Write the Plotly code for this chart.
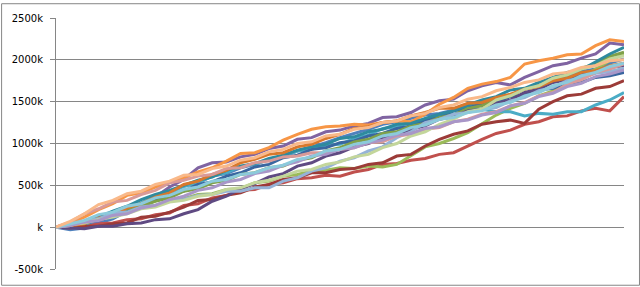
import plotly.graph_objects as go

# values in thousands, 41 samples per series
steps = list(range(41))

blue = [0, -30, -10, 50, 100, 190, 240, 340, 410, 490, 530, 610, 640, 710, 750, 810, 850, 910, 960, 1010, 1070, 1120, 1170, 1230, 1260, 1300, 1340, 1360, 1400, 1440, 1480, 1530, 1570, 1650, 1690, 1760, 1790, 1860, 1890, 1960, 2010]
red = [0, 10, 10, 40, 50, 90, 100, 150, 170, 260, 280, 350, 380, 440, 450, 510, 530, 580, 590, 620, 610, 660, 690, 750, 760, 800, 820, 870, 890, 970, 1050, 1120, 1160, 1230, 1260, 1320, 1330, 1390, 1420, 1390, 1560]
green = [0, 20, 60, 80, 140, 170, 240, 260, 320, 340, 390, 400, 450, 460, 530, 550, 610, 630, 670, 680, 710, 700, 730, 720, 750, 860, 960, 1000, 1060, 1130, 1230, 1340, 1420, 1480, 1570, 1630, 1730, 1800, 1890, 1990, 2070]
purple = [0, 10, 50, 70, 150, 190, 280, 360, 480, 570, 710, 770, 780, 840, 870, 940, 970, 1050, 1070, 1140, 1160, 1210, 1240, 1310, 1320, 1370, 1460, 1510, 1530, 1630, 1690, 1730, 1700, 1790, 1860, 1930, 1960, 2020, 2070, 2200, 2180]
aqua = [0, 10, 30, 100, 140, 240, 290, 370, 410, 490, 530, 610, 650, 730, 750, 810, 850, 910, 930, 980, 990, 1060, 1100, 1180, 1200, 1260, 1280, 1340, 1350, 1400, 1410, 1380, 1380, 1330, 1360, 1350, 1380, 1380, 1460, 1520, 1610]
orange = [0, 50, 120, 210, 280, 380, 410, 480, 540, 590, 660, 710, 790, 880, 890, 950, 1040, 1110, 1170, 1200, 1210, 1230, 1220, 1250, 1270, 1260, 1350, 1470, 1550, 1660, 1710, 1740, 1790, 1950, 1990, 2020, 2060, 2070, 2170, 2240, 2220]
darkblue = [0, 10, 50, 80, 160, 200, 280, 320, 390, 430, 510, 540, 610, 650, 720, 750, 830, 860, 930, 950, 1010, 1030, 1090, 1120, 1180, 1210, 1280, 1310, 1390, 1420, 1480, 1500, 1560, 1580, 1640, 1660, 1720, 1730, 1790, 1810, 1850]
darkred = [0, -10, 10, 10, 40, 50, 120, 130, 180, 240, 320, 330, 380, 410, 480, 510, 570, 590, 650, 650, 690, 700, 750, 770, 850, 870, 970, 1050, 1110, 1150, 1230, 1260, 1280, 1240, 1410, 1500, 1570, 1590, 1660, 1680, 1750]
olive = [0, 30, 70, 140, 160, 220, 250, 310, 350, 430, 460, 530, 560, 630, 650, 710, 730, 800, 830, 910, 950, 1020, 1050, 1120, 1140, 1210, 1240, 1310, 1340, 1420, 1450, 1530, 1570, 1650, 1690, 1770, 1820, 1900, 1950, 2040, 2090]
darkpurple = [0, -10, -20, 10, 10, 40, 50, 90, 100, 160, 210, 310, 370, 460, 520, 600, 640, 730, 770, 850, 890, 960, 1000, 1070, 1100, 1170, 1210, 1290, 1320, 1390, 1410, 1480, 1520, 1610, 1650, 1730, 1760, 1830, 1860, 1910, 1930]
teal = [0, 30, 70, 120, 190, 250, 330, 390, 440, 500, 560, 600, 680, 730, 760, 820, 860, 920, 960, 990, 1060, 1080, 1140, 1170, 1230, 1240, 1300, 1350, 1390, 1460, 1520, 1560, 1640, 1660, 1730, 1790, 1850, 1880, 1980, 2070, 2150]
darkorange = [0, 20, 40, 110, 140, 230, 280, 360, 410, 510, 550, 630, 680, 770, 810, 870, 890, 960, 990, 1060, 1110, 1180, 1200, 1250, 1270, 1330, 1370, 1420, 1420, 1480, 1490, 1550, 1590, 1650, 1680, 1750, 1780, 1850, 1870, 1930, 1960]
lightblue = [0, 20, 70, 100, 170, 180, 240, 260, 320, 330, 380, 390, 430, 430, 470, 470, 550, 590, 670, 710, 790, 830, 910, 960, 1070, 1140, 1250, 1290, 1350, 1370, 1410, 1430, 1510, 1550, 1630, 1670, 1750, 1780, 1840, 1860, 1900]
pink = [0, 60, 160, 220, 300, 320, 390, 440, 530, 560, 610, 630, 700, 710, 770, 790, 840, 850, 890, 890, 930, 950, 1010, 1020, 1090, 1110, 1170, 1190, 1260, 1290, 1350, 1380, 1450, 1490, 1570, 1610, 1710, 1760, 1850, 1890, 1950]
lightgreen = [0, 30, 50, 90, 120, 160, 220, 240, 300, 320, 370, 390, 450, 470, 530, 560, 610, 670, 690, 750, 780, 840, 870, 950, 1000, 1090, 1140, 1230, 1290, 1380, 1410, 1520, 1570, 1650, 1690, 1780, 1820, 1890, 1930, 2010, 2050]
lightpurple = [0, 20, 60, 80, 140, 160, 230, 260, 330, 370, 440, 470, 540, 570, 640, 670, 740, 780, 850, 870, 930, 950, 1010, 1040, 1100, 1120, 1180, 1200, 1260, 1280, 1340, 1370, 1450, 1480, 1560, 1600, 1680, 1720, 1800, 1830, 1880]
lightaqua = [0, 40, 80, 150, 180, 250, 280, 350, 380, 450, 480, 550, 570, 630, 650, 710, 740, 810, 840, 910, 930, 990, 1020, 1090, 1120, 1190, 1220, 1290, 1310, 1370, 1390, 1460, 1490, 1570, 1610, 1690, 1730, 1810, 1850, 1920, 1960]
lightorange = [0, 70, 160, 270, 320, 400, 430, 510, 550, 620, 630, 700, 730, 800, 830, 900, 930, 1000, 1020, 1090, 1110, 1170, 1190, 1250, 1270, 1330, 1360, 1430, 1460, 1530, 1560, 1630, 1670, 1730, 1760, 1830, 1850, 1910, 1930, 1990, 2000]

series = [
    (blue, "#4F81BD"), (red, "#C0504D"), (green, "#9BBB59"), (purple, "#8064A2"),
    (aqua, "#4BACC6"), (orange, "#F79646"), (darkblue, "#3A66A0"), (darkred, "#9C3B38"),
    (olive, "#7FA04A"), (darkpurple, "#5F4A82"), (teal, "#2E8A9E"), (darkorange, "#D8782C"),
    (lightblue, "#95B3D7"), (pink, "#D99A98"), (lightgreen, "#C3D69B"), (lightpurple, "#A896C8"),
    (lightaqua, "#8CCADB"), (lightorange, "#F9B98A"),
]

tick_vals = [-500, 0, 500, 1000, 1500, 2000, 2500]
tick_text = ["-500k", "k", "500k", "1000k", "1500k", "2000k", "2500k"]

fig = go.Figure()
for vals, col in series:
    fig.add_trace(go.Scatter(x=steps, y=vals, mode="lines",
                             line=dict(color=col, width=3), showlegend=False,
                             hoverinfo="skip"))

W, H = 640, 287
ml, mr, mt, mb = 55, 16, 15, 17
pw, ph = W - ml - mr, H - mt - mb

fig.update_layout(
    width=W, height=H,
    margin=dict(l=ml, r=mr, t=mt, b=mb),
    paper_bgcolor="white", plot_bgcolor="white",
    font=dict(family="DejaVu Sans", size=10, color="#000000"),
    xaxis=dict(range=[0, 40], showgrid=False, zeroline=False,
               showticklabels=False, showline=False, ticks=""),
    yaxis=dict(range=[-500, 2500], tickvals=tick_vals, ticktext=tick_text,
               showgrid=True, gridcolor="#868686", gridwidth=1,
               zeroline=True, zerolinecolor="#868686", zerolinewidth=1,
               showline=True, linecolor="#868686", linewidth=1,
               ticks="outside", ticklen=5, tickcolor="#868686", tickwidth=1,
               ticklabelstandoff=5),
    shapes=[dict(type="rect", xref="paper", yref="paper",
                 x0=(0.5 - ml) / pw, x1=(W - 0.5 - ml) / pw,
                 y0=(H - mb - (H - 0.5)) / ph, y1=(H - mb - 0.5) / ph,
                 line=dict(color="#868686", width=1), fillcolor="rgba(0,0,0,0)",
                 layer="below")],
)

fig.write_html("out.html")
